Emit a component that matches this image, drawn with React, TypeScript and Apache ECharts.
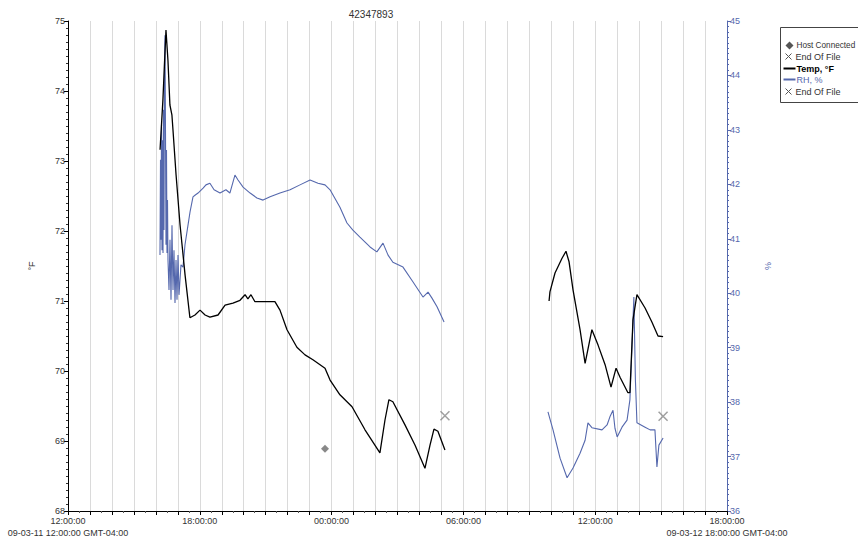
import React, { useEffect, useRef } from "react";
import * as echarts from "echarts";

// time in hours after 09-03-11 12:00:00
const tempTimes1 = [4.19, 4.32, 4.46, 4.55, 4.64, 4.73, 4.78, 4.92, 5.1, 5.33, 5.55, 5.78, 6.01, 6.24, 6.46, 6.83, 7.15, 7.51, 7.83, 8.06, 8.19, 8.33, 8.51, 8.97, 9.42, 9.65, 9.97, 10.42, 10.79, 11.15, 11.7, 11.93, 12.38, 12.93, 13.52, 14.2, 14.43, 14.61, 14.79, 15.34, 15.8, 16.25, 16.48, 16.66, 16.84, 17.16];
const tempValues1 = [73.16, 73.87, 74.87, 74.44, 73.8, 73.66, 73.44, 72.8, 72.09, 71.37, 70.76, 70.8, 70.87, 70.8, 70.77, 70.8, 70.94, 70.97, 71.01, 71.09, 71.03, 71.09, 70.99, 70.99, 70.99, 70.87, 70.59, 70.34, 70.23, 70.16, 70.04, 69.87, 69.66, 69.49, 69.16, 68.83, 69.3, 69.59, 69.56, 69.23, 68.94, 68.61, 68.94, 69.17, 69.14, 68.87];
const tempTimes2 = [21.9, 21.94, 22.17, 22.49, 22.67, 22.81, 22.99, 23.31, 23.54, 23.85, 24.13, 24.45, 24.72, 24.95, 25.13, 25.49, 25.58, 25.72, 25.9, 26.27, 26.58, 26.86, 27.09];
const tempValues2 = [71.0, 71.13, 71.4, 71.61, 71.71, 71.56, 71.16, 70.59, 70.11, 70.59, 70.37, 70.09, 69.77, 70.04, 69.91, 69.69, 69.69, 70.73, 71.09, 70.9, 70.7, 70.5, 70.49];

const rhTimes1 = [4.188, 4.211, 4.234, 4.256, 4.279, 4.302, 4.325, 4.347, 4.37, 4.393, 4.416, 4.438, 4.461, 4.484, 4.507, 4.53, 4.552, 4.598, 4.643, 4.689, 4.734, 4.78, 4.825, 4.871, 4.917, 4.962, 5.008, 5.053, 5.144, 5.235, 5.326, 5.463, 5.554, 5.69, 5.78, 5.92, 6.15, 6.28, 6.46, 6.65, 6.92, 7.19, 7.37, 7.6, 7.74, 7.97, 8.29, 8.6, 8.88, 9.2, 9.65, 10.11, 10.56, 11.02, 11.38, 11.7, 11.93, 12.38, 12.7, 12.97, 13.29, 13.75, 14.06, 14.34, 14.57, 14.79, 15.25, 15.7, 16.16, 16.39, 16.57, 16.8, 17.12];
const rhValues1 = [40.7, 42.45, 40.98, 43.09, 40.79, 42.81, 40.74, 43.37, 41.16, 44.28, 44.74, 43.0, 40.89, 42.63, 40.74, 41.71, 40.61, 40.06, 40.98, 39.88, 41.25, 40.06, 40.79, 39.82, 40.61, 39.88, 40.7, 39.97, 40.52, 40.48, 40.89, 41.25, 41.49, 41.77, 41.8, 41.84, 41.93, 41.99, 42.02, 41.9, 41.84, 41.9, 41.84, 42.17, 42.08, 41.95, 41.84, 41.75, 41.71, 41.77, 41.84, 41.9, 41.99, 42.08, 42.02, 41.99, 41.9, 41.58, 41.29, 41.16, 41.03, 40.85, 40.76, 40.92, 40.7, 40.57, 40.48, 40.21, 39.93, 40.02, 39.91, 39.75, 39.47];
const rhTimes2 = [21.85, 22.08, 22.4, 22.72, 22.99, 23.31, 23.54, 23.67, 23.85, 24.31, 24.54, 24.67, 24.81, 24.9, 25.0, 25.22, 25.45, 25.58, 25.67, 25.76, 25.83, 25.9, 26.27, 26.5, 26.72, 26.81, 26.9, 27.09];
const rhValues2 = [37.82, 37.49, 36.97, 36.61, 36.79, 37.06, 37.3, 37.62, 37.53, 37.49, 37.58, 37.73, 37.85, 37.52, 37.36, 37.54, 37.67, 38.04, 38.96, 39.93, 38.41, 37.62, 37.54, 37.49, 37.49, 36.81, 37.21, 37.34];

const hostConnected = [11.7, 68.89];
const endOfFileTemp = [17.16, 69.36];
const endOfFileRh = [27.09, 37.74];

const xTickLabels = ["12:00:00", "18:00:00", "00:00:00", "06:00:00", "12:00:00", "18:00:00"];
const startStamp = "09-03-11 12:00:00 GMT-04:00";
const endStamp = "09-03-12 18:00:00 GMT-04:00";

const BLUE = "#5568ad";
const FONT = "Liberation Sans, Arial, sans-serif";

function pairs(ts: number[], vs: number[]) {
  return ts.map((t, i) => [t, vs[i]]);
}

export default function App() {
  const ref = useRef<HTMLDivElement>(null);
  useEffect(() => {
    if (!ref.current) return;
    const chart = echarts.init(ref.current, null, { renderer: "svg" });
    const tempData = [...pairs(tempTimes1, tempValues1), [19.5, null], ...pairs(tempTimes2, tempValues2)];
    const rhData = [...pairs(rhTimes1, rhValues1), [19.5, null], ...pairs(rhTimes2, rhValues2)];
    const xPath = "path://M0,0L10,10M10,0L0,10";
    chart.setOption({
      animation: false,
      backgroundColor: "#fff",
      textStyle: { fontFamily: FONT },
      title: {
        text: "42347893",
        left: 366,
        top: 4,
        textAlign: "center",
        textStyle: { fontSize: 10, fontWeight: "normal", color: "#333", fontFamily: FONT },
      },
      grid: { left: 68, right: 131, top: 21, bottom: 29, containLabel: false },
      xAxis: {
        type: "value",
        min: 0,
        max: 30,
        interval: 1,
        axisLine: { show: true, onZero: false, lineStyle: { color: "#000", width: 1 } },
        axisTick: { show: true, length: 4, lineStyle: { color: "#000" } },
        minorTick: { show: true, splitNumber: 2, length: 2, lineStyle: { color: "#555" } },
        splitLine: { show: true, lineStyle: { color: "#dadada", width: 1 } },
        axisLabel: {
          fontSize: 9,
          color: "#333",
          margin: 4,
          lineHeight: 12,
          formatter: (v: number) => {
            if (v % 6 !== 0) return "";
            const lab = xTickLabels[v / 6];
            if (v === 0) return lab + "\n" + startStamp;
            if (v === 30) return lab + "\n" + endStamp;
            return lab;
          },
        },
      },
      yAxis: [
        {
          type: "value",
          min: 68,
          max: 75,
          interval: 1,
          position: "left",
          name: "°F",
          nameLocation: "middle",
          nameGap: 32,
          nameTextStyle: { fontSize: 9, color: "#333" },
          axisLine: { show: true, lineStyle: { color: "#000" } },
          axisTick: { show: true, length: 4, lineStyle: { color: "#000" } },
          minorTick: { show: true, splitNumber: 10, length: 2, lineStyle: { color: "#333" } },
          splitLine: { show: false },
          axisLabel: { fontSize: 9, color: "#333", margin: 3 },
        },
        {
          type: "value",
          min: 36,
          max: 45,
          interval: 1,
          position: "right",
          name: "%",
          nameLocation: "middle",
          nameGap: 36,
          nameTextStyle: { fontSize: 9, color: BLUE },
          axisLine: { show: true, lineStyle: { color: BLUE } },
          axisTick: { show: true, length: 4, lineStyle: { color: BLUE } },
          minorTick: { show: true, splitNumber: 10, length: 2, lineStyle: { color: BLUE } },
          splitLine: { show: false },
          axisLabel: { fontSize: 9, color: BLUE, margin: 3 },
        },
      ],
      series: [
        {
          name: "Host Connected",
          type: "scatter",
          yAxisIndex: 0,
          symbol: "diamond",
          symbolSize: 8,
          itemStyle: { color: "#6a6a6a" },
          data: [hostConnected],
          z: 5,
        },
        {
          name: "End Of File (Temp)",
          type: "scatter",
          yAxisIndex: 0,
          symbol: xPath,
          symbolSize: 9,
          itemStyle: { color: "none", borderColor: "#888", borderWidth: 1.5 },
          data: [endOfFileTemp],
          z: 5,
        },
        {
          name: "Temp, °F",
          type: "line",
          yAxisIndex: 0,
          showSymbol: false,
          connectNulls: false,
          lineStyle: { color: "#000", width: 1.3 },
          data: tempData,
          z: 3,
        },
        {
          name: "RH, %",
          type: "line",
          yAxisIndex: 1,
          showSymbol: false,
          connectNulls: false,
          lineStyle: { color: BLUE, width: 1.1 },
          data: rhData,
          z: 2,
        },
        {
          name: "End Of File (RH)",
          type: "scatter",
          yAxisIndex: 1,
          symbol: xPath,
          symbolSize: 9,
          itemStyle: { color: "none", borderColor: "#888", borderWidth: 1.5 },
          data: [endOfFileRh],
          z: 5,
        },
      ],
      graphic: [
        {
          type: "group",
          left: 780,
          top: 27,
          children: [
            { type: "rect", shape: { x: 0, y: 0, width: 90, height: 75 }, style: { fill: "#fff", stroke: "#444", lineWidth: 1 } },
            { type: "polygon", shape: { points: [[9, 14], [13, 18], [9, 22], [5, 18]] }, style: { fill: "#555" } },
            { type: "text", x: 16, y: 18, style: { text: "Host Connected", fontSize: 8.2, fill: "#333", verticalAlign: "middle", fontFamily: FONT } },
            { type: "line", shape: { x1: 5, y1: 26, x2: 11, y2: 32 }, style: { stroke: "#555", lineWidth: 1 } },
            { type: "line", shape: { x1: 11, y1: 26, x2: 5, y2: 32 }, style: { stroke: "#555", lineWidth: 1 } },
            { type: "text", x: 15, y: 29, style: { text: "End Of File", fontSize: 9, fill: "#333", verticalAlign: "middle", fontFamily: FONT } },
            { type: "line", shape: { x1: 3, y1: 41, x2: 15, y2: 41 }, style: { stroke: "#000", lineWidth: 2 } },
            { type: "text", x: 16, y: 41, style: { text: "Temp, °F", fontSize: 9, fill: "#000", fontWeight: "bold", verticalAlign: "middle", fontFamily: FONT } },
            { type: "line", shape: { x1: 3, y1: 52, x2: 15, y2: 52 }, style: { stroke: BLUE, lineWidth: 2 } },
            { type: "text", x: 16, y: 52, style: { text: "RH, %", fontSize: 9, fill: BLUE, verticalAlign: "middle", fontFamily: FONT } },
            { type: "line", shape: { x1: 5, y1: 61, x2: 11, y2: 67 }, style: { stroke: "#555", lineWidth: 1 } },
            { type: "line", shape: { x1: 11, y1: 61, x2: 5, y2: 67 }, style: { stroke: "#555", lineWidth: 1 } },
            { type: "text", x: 15, y: 64, style: { text: "End Of File", fontSize: 9, fill: "#333", verticalAlign: "middle", fontFamily: FONT } },
          ],
        },
      ],
    });
    return () => chart.dispose();
  }, []);
  return <div ref={ref} style={{ width: 858, height: 540, position: "absolute", left: 0, top: 0 }} />;
}
